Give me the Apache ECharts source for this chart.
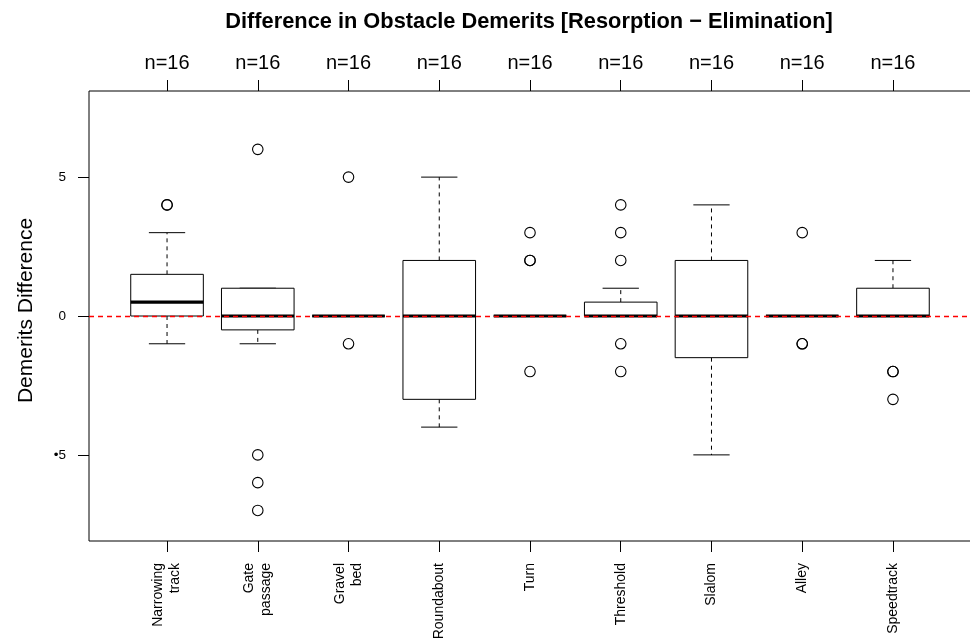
<!DOCTYPE html>
<html>
<head>
<meta charset="utf-8">
<title>Difference in Obstacle Demerits</title>
<script src="https://cdn.jsdelivr.net/npm/echarts@6/dist/echarts.min.js"></script>
<style>
  html, body { margin: 0; padding: 0; background: #fff; }
  #chart { width: 970px; height: 639px; }
</style>
</head>
<body>
<div id="chart"></div>
<script>
// Obstacle names (two-line labels where the name is long)
const categories = ['Narrowing\ntrack', 'Gate\npassage', 'Gravel\nbed', 'Roundabout', 'Turn',
                    'Threshold', 'Slalom', 'Alley', 'Speedtrack'];
// Number of riders per obstacle
const sampleSizes = [16, 16, 16, 16, 16, 16, 16, 16, 16];
// Five-number summaries of the demerit difference
const whiskerLow  = [-1,  -1,   0, -4, 0, 0,   -5,   0, 0];
const q1          = [ 0,  -0.5, 0, -3, 0, 0,   -1.5, 0, 0];
const median      = [ 0.5, 0,   0,  0, 0, 0,    0,   0, 0];
const q3          = [ 1.5, 1,   0,  2, 0, 0.5,  2,   0, 1];
const whiskerHigh = [ 3,   1,   0,  5, 0, 1,    4,   0, 2];
// Points outside the whiskers (repeated values listed once per rider)
const outliers = [
  [4, 4],
  [6, -5, -6, -7],
  [5, -1],
  [],
  [3, 2, 2, -2],
  [4, 3, 2, -1, -2],
  [],
  [3, -1, -1],
  [-2, -2, -3]
];
const yTicks = [-5, 0, 5];
const yMin = -8.1, yMax = 8.1;
// No-difference reference level
const referenceLevel = 0;

const positions = categories.map((_, i) => i + 1);
const xMin = 0.14, xMax = positions.length + 0.86;

const boxData = positions.map((p, i) =>
  [p, whiskerLow[i], q1[i], median[i], q3[i], whiskerHigh[i]]);
const outlierData = [];
outliers.forEach((vals, i) => vals.forEach(v => outlierData.push([positions[i], v])));

const FONT = 'Liberation Sans';

function renderBox(params, api) {
  const x = api.value(0);
  const lo = api.value(1), a = api.value(2), m = api.value(3), b = api.value(4), hi = api.value(5);
  const halfBox = api.size([0.8, 0])[0] / 2;
  const halfCap = halfBox / 2;
  const c = api.coord([x, 0])[0];
  const y = v => api.coord([x, v])[1];
  const solid = { stroke: '#000', lineWidth: 1, fill: null };
  const dashed = { stroke: '#000', lineWidth: 1, lineDash: [4, 4], fill: null };
  const children = [];
  // whiskers
  if (hi > b) {
    children.push({ type: 'line', shape: { x1: c, y1: y(b), x2: c, y2: y(hi) }, style: dashed });
  }
  if (lo < a) {
    children.push({ type: 'line', shape: { x1: c, y1: y(a), x2: c, y2: y(lo) }, style: dashed });
  }
  children.push({ type: 'line', shape: { x1: c - halfCap, y1: y(hi), x2: c + halfCap, y2: y(hi) }, style: solid });
  children.push({ type: 'line', shape: { x1: c - halfCap, y1: y(lo), x2: c + halfCap, y2: y(lo) }, style: solid });
  // box
  children.push({
    type: 'rect',
    shape: { x: c - halfBox, y: y(b), width: halfBox * 2, height: y(a) - y(b) },
    style: { stroke: '#000', lineWidth: 1, fill: '#fff' }
  });
  // median
  children.push({
    type: 'line',
    shape: { x1: c - halfBox, y1: y(m), x2: c + halfBox, y2: y(m) },
    style: { stroke: '#000', lineWidth: 3.2 }
  });
  return { type: 'group', children: children };
}

const chart = echarts.init(document.getElementById('chart'), null, { renderer: 'canvas' });
chart.setOption({
  animation: false,
  backgroundColor: '#fff',
  title: {
    text: 'Difference in Obstacle Demerits [Resorption \u2212 Elimination]',
    left: 524,
    textAlign: 'center',
    top: 6,
    textStyle: { fontFamily: FONT, fontSize: 21.8, fontWeight: 'bold', color: '#000' }
  },
  grid: {
    left: 89, top: 91, width: 882, height: 450,
    outerBoundsMode: 'none',
    containLabel: false,
    show: true, borderColor: '#000', borderWidth: 1, backgroundColor: 'transparent'
  },
  xAxis: [
    {
      type: 'value', position: 'bottom', min: xMin, max: xMax,
      axisLine: { show: false, onZero: false },
      splitLine: { show: false },
      axisTick: { show: true, customValues: positions, length: 11, lineStyle: { color: '#000', width: 1 } },
      axisLabel: {
        customValues: positions,
        formatter: v => categories[Math.round(v) - 1],
        rotate: 90, margin: 22,
        fontFamily: FONT, fontSize: 14, lineHeight: 17, color: '#000'
      }
    },
    {
      type: 'value', position: 'top', min: xMin, max: xMax,
      axisLine: { show: false, onZero: false },
      splitLine: { show: false },
      axisTick: { show: true, customValues: positions, length: 11, lineStyle: { color: '#000', width: 1 } },
      axisLabel: {
        customValues: positions,
        formatter: v => 'n=' + sampleSizes[Math.round(v) - 1],
        margin: 18,
        fontFamily: FONT, fontSize: 20, color: '#000'
      }
    }
  ],
  yAxis: {
    type: 'value', min: yMin, max: yMax,
    name: 'Demerits Difference',
    nameLocation: 'middle', nameGap: 52,
    nameTextStyle: { fontFamily: FONT, fontSize: 21, color: '#000', padding: [0, 0, 0, 11] },
    axisLine: { show: false, onZero: false },
    splitLine: { show: false },
    axisTick: { show: true, customValues: yTicks, length: 11, lineStyle: { color: '#000', width: 1 } },
    axisLabel: {
      customValues: yTicks,
      formatter: v => (v < 0 ? '\u2022' + Math.abs(v) : String(v)),
      margin: 23,
      fontFamily: FONT, fontSize: 13.5, color: '#000'
    }
  },
  series: [
    {
      type: 'custom',
      xAxisIndex: 0,
      renderItem: renderBox,
      data: boxData,
      silent: true,
      z: 2
    },
    {
      type: 'scatter',
      xAxisIndex: 0,
      data: outlierData,
      symbol: 'circle',
      symbolSize: 10.5,
      itemStyle: { color: 'rgba(0,0,0,0)', borderColor: '#000', borderWidth: 1.1, opacity: 1 },
      silent: true,
      z: 3,
      markLine: {
        silent: true,
        symbol: ['none', 'none'],
        label: { show: false },
        lineStyle: { color: '#ff0000', type: [5, 4], width: 1.3, opacity: 1 },
        emphasis: { disabled: true },
        data: [{ yAxis: referenceLevel }],
        z: 10
      }
    }
  ]
});
</script>
</body>
</html>
